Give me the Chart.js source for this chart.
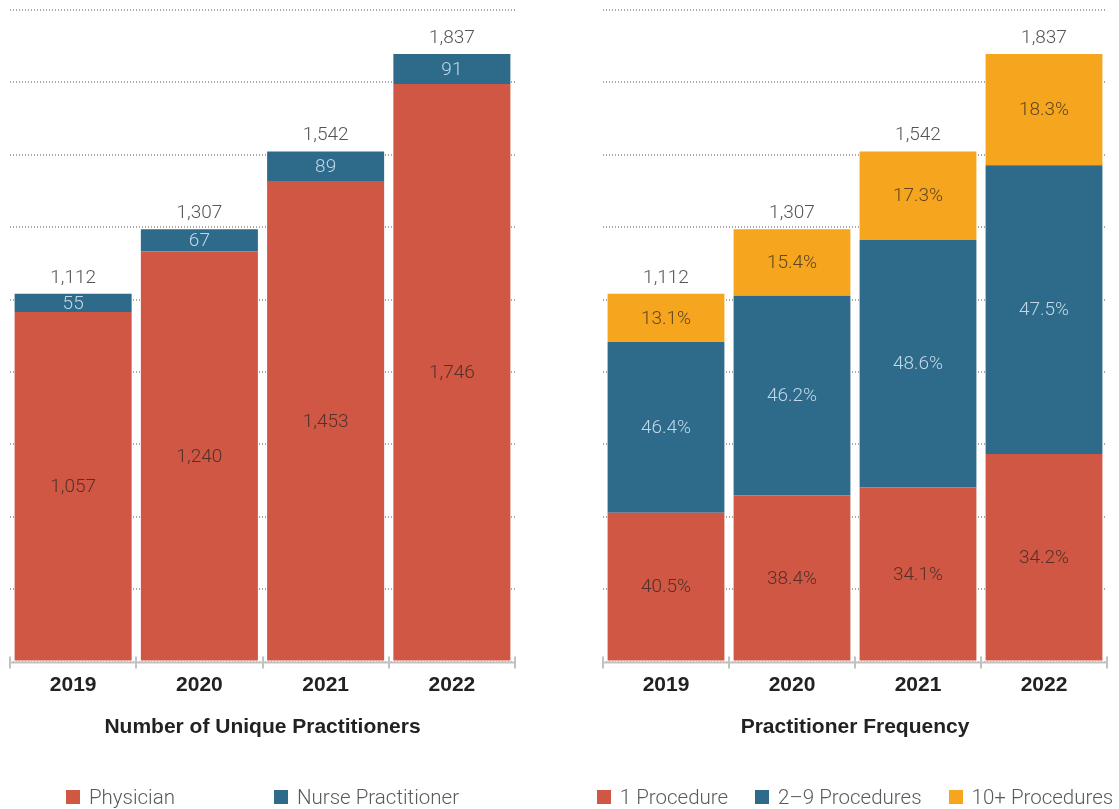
<!DOCTYPE html>
<html>
<head>
<meta charset="utf-8">
<script src="https://cdn.jsdelivr.net/npm/chart.js@4.4.1/dist/chart.umd.min.js"></script>
<style>
  html, body { margin:0; padding:0; background:#fff; width:1119px; height:809px; overflow:hidden; }
  .wrap { position:absolute; top:0; height:809px; }
  #w1 { left:0; width:540px; }
  #w2 { left:570px; width:549px; }
  .legend { position:absolute; top:786px; height:22px; display:flex; justify-content:center; align-items:center;
            font-family: Roboto, "Liberation Sans", sans-serif; font-weight:300; font-size:20.5px; color:#5a5a5a; white-space:nowrap; }
  .legend .item { display:flex; align-items:center; }
  .legend .sw { width:14px; height:14px; margin-right:9px; }
  #lg1 { left:10px; width:505px; gap:99px; }
  #lg2 { left:603px; width:504px; gap:27px; }
</style>
</head>
<body>
<div class="wrap" id="w1"><canvas id="c1"></canvas></div>
<div class="wrap" id="w2"><canvas id="c2"></canvas></div>
<div class="legend" id="lg1"></div>
<div class="legend" id="lg2"></div>
<script>
// ---- data ----
const years = ['2019', '2020', '2021', '2022'];
const totals = [1112, 1307, 1542, 1837];

const physician = [1057, 1240, 1453, 1746];
const nursePractitioner = [55, 67, 89, 91];

const oneProcedure = [450, 502, 526, 628];
const twoToNineProcedures = [516, 604, 749, 873];
const tenPlusProcedures = [146, 201, 267, 336];

const oneProcedurePct = ['40.5%', '38.4%', '34.1%', '34.2%'];
const twoToNinePct = ['46.4%', '46.2%', '48.6%', '47.5%'];
const tenPlusPct = ['13.1%', '15.4%', '17.3%', '18.3%'];

const leftTitle = 'Number of Unique Practitioners';
const rightTitle = 'Practitioner Frequency';

const yMax = 1970;
const gridSteps = 9;

// ---- styles ----
const RED = '#CF5744', BLUE = '#2E6A89', ORANGE = '#F5A61E';
const LIGHT_FONT = '300 19px Roboto, "Liberation Sans", sans-serif';
const BOLD_FONT = { family: '"Liberation Sans", Arial, sans-serif', size: 21, weight: 'bold' };

const fmt = v => v.toLocaleString('en-US');

const segLabels = {
  id: 'segLabels',
  afterDatasetsDraw(chart, args, opts) {
    const ctx = chart.ctx;
    ctx.save();
    ctx.font = LIGHT_FONT;
    ctx.textAlign = 'center';
    ctx.textBaseline = 'middle';
    chart.data.datasets.forEach((ds, di) => {
      const meta = chart.getDatasetMeta(di);
      meta.data.forEach((bar, i) => {
        ctx.fillStyle = ds.labelColor;
        ctx.fillText(ds.labelTexts[i], bar.x, (bar.y + bar.base) / 2 + 1);
      });
    });
    const last = chart.getDatasetMeta(chart.data.datasets.length - 1);
    ctx.fillStyle = '#555';
    last.data.forEach((bar, i) => {
      ctx.fillText(fmt(opts.totals[i]), bar.x, bar.y - 16);
    });
    ctx.restore();
  }
};

const axisLine = {
  id: 'axisLine',
  afterDatasetsDraw(chart) {
    const { ctx, chartArea } = chart;
    const x = chart.scales.x;
    ctx.save();
    ctx.strokeStyle = '#c2c2c2';
    ctx.lineWidth = 2;
    ctx.beginPath();
    ctx.moveTo(chartArea.left, chartArea.bottom + 1);
    ctx.lineTo(chartArea.right, chartArea.bottom + 1);
    ctx.stroke();
    for (let i = 0; i <= x.ticks.length; i++) {
      const px = Math.round(x.getPixelForValue(i - 0.5));
      ctx.beginPath();
      ctx.moveTo(px, chartArea.bottom - 5);
      ctx.lineTo(px, chartArea.bottom + 7);
      ctx.stroke();
    }
    ctx.restore();
  }
};

function makeChart(id, datasets, title, padding) {
  return new Chart(document.getElementById(id), {
    type: 'bar',
    data: { labels: years, datasets },
    options: {
      responsive: true,
      maintainAspectRatio: false,
      animation: false,
      layout: { padding },
      plugins: { legend: { display: false }, tooltip: { enabled: false }, segLabels: { totals } },
      datasets: { bar: { categoryPercentage: 1, barPercentage: 0.927, borderWidth: 0 } },
      scales: {
        x: {
          stacked: true,
          grid: { display: false, drawTicks: false },
          border: { display: false },
          ticks: { color: '#222', font: BOLD_FONT, padding: 11 },
          title: { display: true, text: title, color: '#222', font: BOLD_FONT, padding: { top: 6, bottom: 69 } }
        },
        y: {
          stacked: true,
          min: 0,
          max: yMax,
          afterBuildTicks: s => { s.ticks = Array.from({ length: gridSteps + 1 }, (_, k) => ({ value: k * yMax / gridSteps })); },
          ticks: { display: false },
          grid: { color: '#a8a8a8', lineWidth: 2, drawTicks: false },
          border: { display: false, dash: [1, 2] }
        }
      }
    },
    plugins: [segLabels, axisLine]
  });
}

makeChart('c1', [
  { label: 'Physician', data: physician, backgroundColor: RED, labelTexts: physician.map(fmt), labelColor: '#55302a' },
  { label: 'Nurse Practitioner', data: nursePractitioner, backgroundColor: BLUE, labelTexts: nursePractitioner.map(fmt), labelColor: '#c0d8e8' }
], leftTitle, { left: 10, right: 25, top: 10, bottom: 0 });

makeChart('c2', [
  { label: '1 Procedure', data: oneProcedure, backgroundColor: RED, labelTexts: oneProcedurePct, labelColor: '#55302a' },
  { label: '2–9 Procedures', data: twoToNineProcedures, backgroundColor: BLUE, labelTexts: twoToNinePct, labelColor: '#c0d8e8' },
  { label: '10+ Procedures', data: tenPlusProcedures, backgroundColor: ORANGE, labelTexts: tenPlusPct, labelColor: '#624521' }
], rightTitle, { left: 33, right: 12, top: 10, bottom: 0 });

function buildLegend(id, items) {
  const el = document.getElementById(id);
  items.forEach(([text, color]) => {
    const it = document.createElement('div');
    it.className = 'item';
    const sw = document.createElement('span');
    sw.className = 'sw';
    sw.style.background = color;
    const tx = document.createElement('span');
    tx.textContent = text;
    it.appendChild(sw); it.appendChild(tx);
    el.appendChild(it);
  });
}
buildLegend('lg1', [['Physician', RED], ['Nurse Practitioner', BLUE]]);
buildLegend('lg2', [['1 Procedure', RED], ['2–9 Procedures', BLUE], ['10+ Procedures', ORANGE]]);
</script>
</body>
</html>
